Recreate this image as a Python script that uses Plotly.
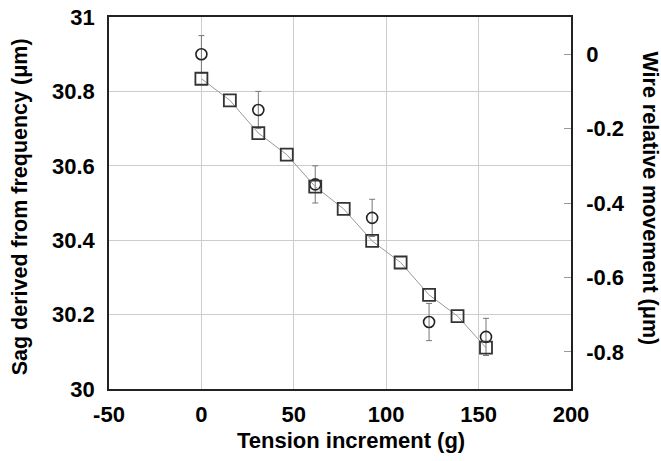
import plotly.graph_objects as go

# Data
tension_sq = [0, 15.4, 30.8, 46.2, 61.6, 77.0, 92.4, 107.8, 123.2, 138.6, 154.0]
wire_move = [-0.066, -0.124, -0.212, -0.270, -0.356, -0.416, -0.502, -0.560, -0.647, -0.704, -0.789]

tension_circ = [0, 30.8, 61.6, 92.4, 123.2, 154.0]
sag_freq = [30.90, 30.75, 30.55, 30.46, 30.18, 30.14]
sag_err = [0.05, 0.05, 0.05, 0.05, 0.05, 0.05]

x_ticks = [-50, 0, 50, 100, 150, 200]
y_ticks = [30, 30.2, 30.4, 30.6, 30.8, 31]
y2_ticks = [0, -0.2, -0.4, -0.6, -0.8]

FONT = "Liberation Sans, Arial, sans-serif"

fig = go.Figure()
fig.add_trace(go.Scatter(
    x=tension_circ, y=sag_freq, mode="markers",
    marker=dict(symbol="circle-open", size=11, color="#222222", line=dict(width=1.6)),
    error_y=dict(type="data", array=sag_err, visible=True, color="#777777", thickness=1, width=3),
    yaxis="y", showlegend=False,
))
fig.add_trace(go.Scatter(
    x=tension_sq, y=wire_move, mode="lines+markers",
    line=dict(color="#999999", width=1),
    marker=dict(symbol="square-open", size=12, color="#333333", line=dict(width=1.8)),
    yaxis="y2", showlegend=False,
))

fig.update_layout(
    width=661, height=461,
    margin=dict(l=109, r=90, t=17, b=72, autoexpand=False),
    paper_bgcolor="white", plot_bgcolor="white",
    font=dict(family=FONT, color="black"),
    xaxis=dict(
        range=[-50, 200], tickvals=x_ticks, ticktext=[str(v) for v in x_ticks],
        showgrid=True, gridcolor="#cccccc", gridwidth=1,
        showline=True, linecolor="#222222", linewidth=1.5, mirror=True,
        ticks="", zeroline=False, automargin=False, ticklabeloverflow="allow",
        tickfont=dict(size=22, family=FONT, weight="bold"),
        ticklabelstandoff=5,
    ),
    yaxis=dict(
        range=[30, 31], tickvals=y_ticks, ticktext=["30", "30.2", "30.4", "30.6", "30.8", "31"],
        showgrid=True, gridcolor="#cccccc", gridwidth=1,
        showline=True, linecolor="#222222", linewidth=1.5, mirror=True,
        ticks="", zeroline=False, automargin=False, ticklabeloverflow="allow",
        tickfont=dict(size=22, family=FONT, weight="bold"),
        ticklabelstandoff=8,
    ),
    yaxis2=dict(
        range=[-0.9, 0.1], overlaying="y", side="right",
        tickvals=y2_ticks, ticktext=["0", "-0.2", "-0.4", "-0.6", "-0.8"],
        showgrid=False, zeroline=False, automargin=False, ticklabeloverflow="allow",
        showline=True, linecolor="#222222", linewidth=1.5,
        ticks="inside", ticklen=7, tickcolor="#999999", tickwidth=1,
        tickfont=dict(size=22, family=FONT, weight="bold"),
        ticklabelstandoff=9,
    ),
    annotations=[
        dict(text="Tension increment (g)", xref="paper", yref="paper", x=0.524, y=-0.1396,
             xanchor="center", yanchor="middle", showarrow=False,
             font=dict(size=22, family=FONT, weight="bold")),
        dict(text="Sag derived from frequency (μm)", xref="paper", yref="paper", x=-0.1935, y=0.49,
             xanchor="center", yanchor="middle", textangle=-90, showarrow=False,
             font=dict(size=21.5, family=FONT, weight="bold")),
        dict(text="Wire relative movement (μm)", xref="paper", yref="paper", x=1.172, y=0.511,
             xanchor="center", yanchor="middle", textangle=90, showarrow=False,
             font=dict(size=21.5, family=FONT, weight="bold")),
    ],
)

fig.write_html("out.html", config={"displayModeBar": False},
               post_script="document.body.style.margin='0px';")
